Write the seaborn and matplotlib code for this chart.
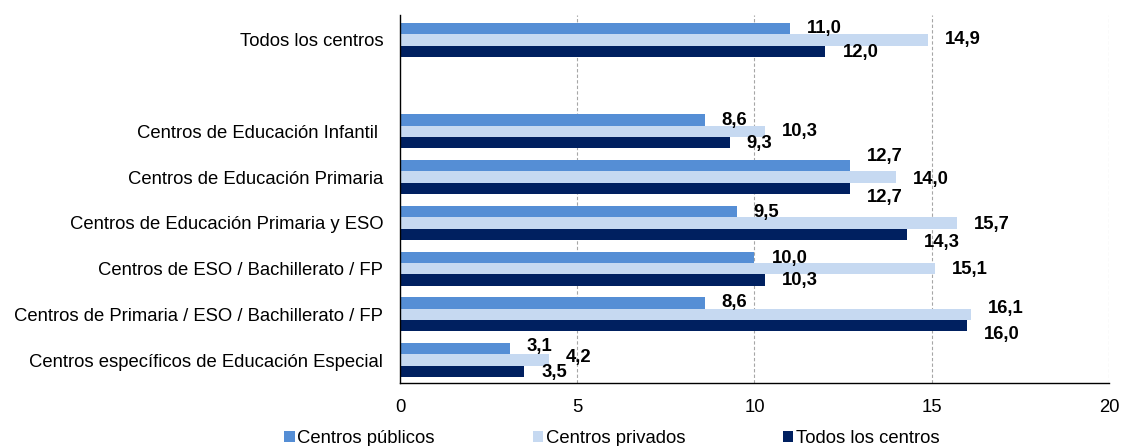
import pandas as pd
import matplotlib
matplotlib.use("Agg")
import matplotlib.pyplot as plt
import seaborn as sns

# ==============================
# DATA
# ==============================
categories = [
    "Todos los centros",
    "Centros de Educación Infantil ",
    "Centros de Educación Primaria",
    "Centros de Educación Primaria y ESO",
    "Centros de ESO / Bachillerato / FP",
    "Centros de Primaria / ESO / Bachillerato / FP",
    "Centros específicos de Educación Especial",
]
series = ["Centros públicos", "Centros privados", "Todos los centros"]
publicos = [11.0, 8.6, 12.7, 9.5, 10.0, 8.6, 3.1]
privados = [14.9, 10.3, 14.0, 15.7, 15.1, 16.1, 4.2]
todos = [12.0, 9.3, 12.7, 14.3, 10.3, 16.0, 3.5]
colors = ["#558ED5", "#C6D9F1", "#002060"]

# vertical nudges (pixels, + = down) of the value labels, per series / category
label_shift = [
    [0, 0, -9, 1, 1, -1, -2],
    [0, 0, 2, 2, 1, -6, -3],
    [1, 1, 9, 8, 1, 9, 1],
]

# blank slot between the first group and the rest
order = [categories[0], " "] + categories[1:]

rows = []
for s, vals in zip(series, [publicos, privados, todos]):
    for c, v in zip(categories, vals):
        rows.append({"Centro": c, "Serie": s, "Valor": v})
df = pd.DataFrame(rows)

# ==============================
# PLOT
# ==============================
sns.set_style("white")
plt.rcParams["font.family"] = ["Liberation Sans", "DejaVu Sans"]
plt.rcParams["text.color"] = "black"
plt.rcParams["xtick.color"] = "black"
plt.rcParams["ytick.color"] = "black"
FS = 13.3

fig = plt.figure(figsize=(11.21, 4.46), dpi=100)
ax = fig.add_axes([0.3568, 0.1413, 0.6325, 0.8251])

sns.barplot(data=df, y="Centro", x="Valor", hue="Serie", order=order,
            hue_order=series, palette=colors, orient="h", width=0.74,
            linewidth=0, saturation=1, ax=ax, legend=True)

# value labels
for cont, shifts in zip(ax.containers, label_shift):
    bars = [b for b in cont if b.get_width() > 0]
    for b, dy in zip(bars, shifts):
        w = b.get_width()
        yc = b.get_y() + b.get_height() / 2
        ax.annotate(f"{w:.1f}".replace(".", ","), xy=(w, yc),
                    xytext=(17, -dy), textcoords="offset pixels",
                    ha="left", va="center", fontsize=FS, fontweight="bold",
                    color="black")

ax.set_xlim(0, 20)
ax.set_ylim(7.5, -0.545)
ax.set_xticks([0, 5, 10, 15, 20])
ax.tick_params(axis="x", labelsize=FS, length=4.5, width=0.8,
               direction="out", pad=7)
ax.tick_params(axis="y", labelsize=FS, length=0, pad=12)
ax.set_xlabel("")
ax.set_ylabel("")

for x in [5, 10, 15, 20]:
    ax.axvline(x, color="#A6A6A6", linestyle=(0, (3, 2)), linewidth=0.8, zorder=0)

for side in ["top", "right"]:
    ax.spines[side].set_visible(False)
for side in ["left", "bottom"]:
    ax.spines[side].set_color("black")
    ax.spines[side].set_linewidth(1)

handles, labs = ax.get_legend_handles_labels()
ax.get_legend().remove()
fig.legend(handles, labs, loc="center", bbox_to_anchor=(0.546, 0.017),
           ncol=3, frameon=False, fontsize=FS, handlelength=0.55,
           handleheight=0.55, handletextpad=0.15, columnspacing=5.3,
           borderpad=0, borderaxespad=0)

fig.savefig("out.png", dpi=100)
